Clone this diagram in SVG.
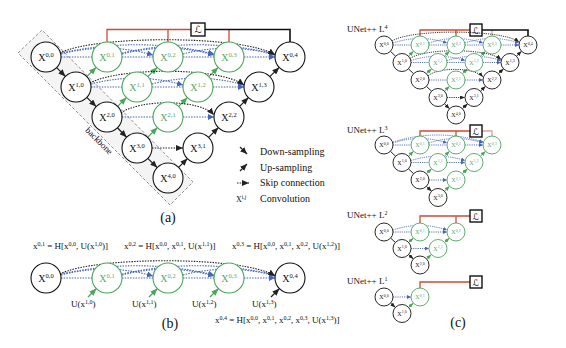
<svg xmlns="http://www.w3.org/2000/svg" width="566" height="348" viewBox="0 0 566 348">
<style>
.bg{fill:#fff}
.nb{fill:#fff;stroke:#111;stroke-width:1.1}
.ng{fill:#fff;stroke:#4aa55a;stroke-width:1.1}
.nbs{fill:#fff;stroke:#111;stroke-width:0.9}
.ngs{fill:#fff;stroke:#4aa55a;stroke-width:0.9}
.t{font-family:"Liberation Serif","Times New Roman",serif;fill:#111}
.tb{font-family:"Liberation Serif",serif;font-size:10px;fill:#111;text-anchor:middle}
.tg{font-family:"Liberation Serif",serif;font-size:10px;fill:#5aa865;text-anchor:middle}
.tbs{font-family:"Liberation Serif",serif;font-size:6px;fill:#111;text-anchor:middle}
.tgs{font-family:"Liberation Serif",serif;font-size:6px;fill:#5aa865;text-anchor:middle}
.sp{font-size:6.5px}
.sps{font-size:4px}
.dn{stroke:#222;stroke-width:1.3;fill:none;marker-end:url(#mk)}
.ug{stroke:#4aa55a;stroke-width:1.3;fill:none;marker-end:url(#mg)}
.sk{stroke:#4466bb;stroke-width:1.1;stroke-dasharray:1.5 1.2;fill:none;marker-end:url(#mb)}
.ska{stroke:#222;stroke-width:1.1;stroke-dasharray:1.5 1.2;fill:none;marker-end:url(#mk)}
.dns{stroke:#222;stroke-width:1;fill:none;marker-end:url(#mks)}
.ugs{stroke:#4aa55a;stroke-width:1;fill:none;marker-end:url(#mgs)}
.sks{stroke:#4466bb;stroke-width:0.9;stroke-dasharray:1.2 1;fill:none;marker-end:url(#mbs)}
.skas{stroke:#222;stroke-width:0.9;stroke-dasharray:1.2 1;fill:none;marker-end:url(#mks)}
.red{stroke:#d04a35;stroke-width:1.3;fill:none}
.pink{stroke:#e3a39a;stroke-width:1.3;fill:none}
.blk{stroke:#111;stroke-width:1.6;fill:none}
.box{fill:#fff;stroke:#111;stroke-width:1.4}
.L{font-family:"DejaVu Serif","DejaVu Sans",serif;font-style:italic;fill:#111;text-anchor:middle}
</style>
<defs>
<marker id="mk" markerUnits="userSpaceOnUse" markerWidth="7" markerHeight="6" refX="7" refY="3" orient="auto"><path d="M0,0 L7,3 L0,6 z" fill="#222"/></marker>
<marker id="mg" markerUnits="userSpaceOnUse" markerWidth="7" markerHeight="6" refX="7" refY="3" orient="auto"><path d="M0,0 L7,3 L0,6 z" fill="#4aa55a"/></marker>
<marker id="mb" markerUnits="userSpaceOnUse" markerWidth="6" markerHeight="6" refX="6" refY="3" orient="auto"><path d="M0,0 L6,3 L0,6 z" fill="#4466bb"/></marker>
<marker id="mks" markerUnits="userSpaceOnUse" markerWidth="5" markerHeight="4" refX="5" refY="2" orient="auto"><path d="M0,0 L5,2 L0,4 z" fill="#222"/></marker>
<marker id="mgs" markerUnits="userSpaceOnUse" markerWidth="5" markerHeight="4" refX="5" refY="2" orient="auto"><path d="M0,0 L5,2 L0,4 z" fill="#4aa55a"/></marker>
<marker id="mbs" markerUnits="userSpaceOnUse" markerWidth="4" markerHeight="4" refX="4" refY="2" orient="auto"><path d="M0,0 L4,2 L0,4 z" fill="#4466bb"/></marker>
</defs>
<rect class="bg" x="0" y="0" width="566" height="348"/>

<!-- ===== Panel (a) ===== -->
<g id="a-backbone">
<polygon points="18,53 42,30 193,182 170,205" fill="#f3f4f3" stroke="#777" stroke-width="0.8" stroke-dasharray="3 2"/>
<text class="t" font-size="9" text-anchor="middle" transform="translate(97,143) rotate(45)">backbone</text>
</g>
<g id="a-supervision">
<path class="red" d="M107 42 V29.5 H191 M168 42 V29.5 M229 42 V29.5"/>
<path class="blk" d="M205 29.5 H290 V42"/>
<rect class="box" x="191" y="23" width="14" height="13"/>
<text class="L" x="198" y="33" font-size="10">ℒ</text>
</g>
<g id="a-connectors">
<path class="dn" d="M56.6 67.6 L65.4 76.4"/>
<path class="dn" d="M86.8 97.4 L96.2 106.6"/>
<path class="dn" d="M117.4 127.8 L126.6 137.2"/>
<path class="dn" d="M147.8 158.4 L157.2 167.6"/>
<path class="ug" d="M86.8 76.6 L96.2 67.4"/>
<path class="ug" d="M117.6 106.4 L126.4 97.6"/>
<path class="ug" d="M147.6 137.4 L157.4 127.6"/>
<path class="dn" d="M178.6 167.4 L187.4 158.6"/>
<path class="ug" d="M147.8 76.6 L157.2 67.4"/>
<path class="ug" d="M178.6 106.4 L187.4 97.6"/>
<path class="dn" d="M208.6 137.4 L218.4 127.6"/>
<path class="ug" d="M208.8 76.6 L218.2 67.4"/>
<path class="dn" d="M239.6 106.4 L248.4 97.6"/>
<path class="dn" d="M269.8 76.6 L279.2 67.4"/>
<path class="sk" d="M61 57 H92 M122 57 H153 M183 57 H214 M244 57 H275"/>
<path class="sk" d="M91 87 H122 M152 87 H183 M213 87 H244"/>
<path class="sk" d="M122 117 H153 M183 117 H214"/>
<path class="ska" d="M152 148 H183"/>
<path class="sk" d="M61 54 Q107 42 153 55"/>
<path class="sk" d="M61 53 Q140 36 214 54"/>
<path class="sk" d="M122 54 Q168 42 214 55"/>
<path class="sk" d="M122 53 Q200 36 275 54"/>
<path class="sk" d="M183 54 Q229 42 275 55"/>
<path class="sk" d="M91 84 Q137 72 183 85"/>
<path class="sk" d="M152 84 Q198 72 244 85"/>
<path class="ska" d="M60 53 C95 35 245 35 275 55"/>
<path class="ska" d="M90 83 C120 67 220 67 244 85"/>
<path class="ska" d="M121 113 C140 99 200 99 214 115"/>
</g>
<g id="a-x00"><circle class="nb" cx="46" cy="57" r="15"/><text class="tb" x="46" y="60.5">X<tspan class="sp" dy="-4">0,0</tspan></text></g>
<g id="a-x01"><circle class="ng" cx="107" cy="57" r="15"/><text class="tg" x="107" y="60.5">X<tspan class="sp" dy="-4">0,1</tspan></text></g>
<g id="a-x02"><circle class="ng" cx="168" cy="57" r="15"/><text class="tg" x="168" y="60.5">X<tspan class="sp" dy="-4">0,2</tspan></text></g>
<g id="a-x03"><circle class="ng" cx="229" cy="57" r="15"/><text class="tg" x="229" y="60.5">X<tspan class="sp" dy="-4">0,3</tspan></text></g>
<g id="a-x04"><circle class="nb" cx="290" cy="57" r="15"/><text class="tb" x="290" y="60.5">X<tspan class="sp" dy="-4">0,4</tspan></text></g>
<g id="a-x10"><circle class="nb" cx="76" cy="87" r="15"/><text class="tb" x="76" y="90.5">X<tspan class="sp" dy="-4">1,0</tspan></text></g>
<g id="a-x11"><circle class="ng" cx="137" cy="87" r="15"/><text class="tg" x="137" y="90.5">X<tspan class="sp" dy="-4">1,1</tspan></text></g>
<g id="a-x12"><circle class="ng" cx="198" cy="87" r="15"/><text class="tg" x="198" y="90.5">X<tspan class="sp" dy="-4">1,2</tspan></text></g>
<g id="a-x13"><circle class="nb" cx="259" cy="87" r="15"/><text class="tb" x="259" y="90.5">X<tspan class="sp" dy="-4">1,3</tspan></text></g>
<g id="a-x20"><circle class="nb" cx="107" cy="117" r="15"/><text class="tb" x="107" y="120.5">X<tspan class="sp" dy="-4">2,0</tspan></text></g>
<g id="a-x21"><circle class="ng" cx="168" cy="117" r="15"/><text class="tg" x="168" y="120.5">X<tspan class="sp" dy="-4">2,1</tspan></text></g>
<g id="a-x22"><circle class="nb" cx="229" cy="117" r="15"/><text class="tb" x="229" y="120.5">X<tspan class="sp" dy="-4">2,2</tspan></text></g>
<g id="a-x30"><circle class="nb" cx="137" cy="148" r="15"/><text class="tb" x="137" y="151.5">X<tspan class="sp" dy="-4">3,0</tspan></text></g>
<g id="a-x31"><circle class="nb" cx="198" cy="148" r="15"/><text class="tb" x="198" y="151.5">X<tspan class="sp" dy="-4">3,1</tspan></text></g>
<g id="a-x40"><circle class="nb" cx="168" cy="178" r="15"/><text class="tb" x="168" y="181.5">X<tspan class="sp" dy="-4">4,0</tspan></text></g>

<g id="legend">
<path class="dn" d="M240 147 L247 154"/>
<path class="dn" d="M240 171 L247 164"/>
<path class="ska" d="M237 183 H249"/>
<text class="t" x="236" y="202" font-size="8">X<tspan font-size="5.5" dy="-3">i,j</tspan></text>
<text class="t" x="260" y="155" font-size="10">Down-sampling</text>
<text class="t" x="260" y="171" font-size="10">Up-sampling</text>
<text class="t" x="260" y="186" font-size="10">Skip connection</text>
<text class="t" x="260" y="202" font-size="10">Convolution</text>
</g>
<text class="t" x="168" y="222" font-size="14" text-anchor="middle">(a)</text>

<!-- ===== Panel (b) ===== -->
<g id="b-formulas" class="t" font-size="9">
<text x="33" y="249">x<tspan font-size="6" dy="-3.5">0,1</tspan><tspan dy="3.5"> = H[x</tspan><tspan font-size="6" dy="-3.5">0,0</tspan><tspan dy="3.5">, U(x</tspan><tspan font-size="6" dy="-3.5">1,0</tspan><tspan dy="3.5">)]</tspan></text>
<text x="124" y="249">x<tspan font-size="6" dy="-3.5">0,2</tspan><tspan dy="3.5"> = H[x</tspan><tspan font-size="6" dy="-3.5">0,0</tspan><tspan dy="3.5">, x</tspan><tspan font-size="6" dy="-3.5">0,1</tspan><tspan dy="3.5">, U(x</tspan><tspan font-size="6" dy="-3.5">1,1</tspan><tspan dy="3.5">)]</tspan></text>
<text x="232" y="249">x<tspan font-size="6" dy="-3.5">0,3</tspan><tspan dy="3.5"> = H[x</tspan><tspan font-size="6" dy="-3.5">0,0</tspan><tspan dy="3.5">, x</tspan><tspan font-size="6" dy="-3.5">0,1</tspan><tspan dy="3.5">, x</tspan><tspan font-size="6" dy="-3.5">0,2</tspan><tspan dy="3.5">, U(x</tspan><tspan font-size="6" dy="-3.5">1,2</tspan><tspan dy="3.5">)]</tspan></text>
<text x="215" y="323">x<tspan font-size="6" dy="-3.5">0,4</tspan><tspan dy="3.5"> = H[x</tspan><tspan font-size="6" dy="-3.5">0,0</tspan><tspan dy="3.5">, x</tspan><tspan font-size="6" dy="-3.5">0,1</tspan><tspan dy="3.5">, x</tspan><tspan font-size="6" dy="-3.5">0,2</tspan><tspan dy="3.5">, x</tspan><tspan font-size="6" dy="-3.5">0,3</tspan><tspan dy="3.5">, U(x</tspan><tspan font-size="6" dy="-3.5">1,3</tspan><tspan dy="3.5">)]</tspan></text>
</g>
<g id="b-connectors">
<path class="sk" d="M61 278 H92 M122 278 H153 M183 278 H214 M244 278 H275"/>
<path class="sk" d="M61 275 Q107 263 153 276"/>
<path class="sk" d="M61 274 Q140 257 214 275"/>
<path class="sk" d="M122 275 Q168 263 214 276"/>
<path class="sk" d="M122 274 Q200 257 275 275"/>
<path class="sk" d="M183 275 Q229 263 275 276"/>
<path class="ska" d="M60 274 C95 256 245 256 275 276"/>
<path class="ug" d="M88 297 L96.4 288.6"/>
<path class="ug" d="M149 297 L157.4 288.6"/>
<path class="ug" d="M210 297 L218.4 288.6"/>
<path class="dn" d="M271 297 L279.4 288.6"/>
</g>
<g id="b-x00"><circle class="nb" cx="46" cy="278" r="15"/><text class="tb" x="46" y="281.5">X<tspan class="sp" dy="-4">0,0</tspan></text></g>
<g id="b-x01"><circle class="ng" cx="107" cy="278" r="15"/><text class="tg" x="107" y="281.5">X<tspan class="sp" dy="-4">0,1</tspan></text></g>
<g id="b-x02"><circle class="ng" cx="168" cy="278" r="15"/><text class="tg" x="168" y="281.5">X<tspan class="sp" dy="-4">0,2</tspan></text></g>
<g id="b-x03"><circle class="ng" cx="229" cy="278" r="15"/><text class="tg" x="229" y="281.5">X<tspan class="sp" dy="-4">0,3</tspan></text></g>
<g id="b-x04"><circle class="nb" cx="290" cy="278" r="15"/><text class="tb" x="290" y="281.5">X<tspan class="sp" dy="-4">0,4</tspan></text></g>
<g id="b-ulabels" class="t" font-size="9">
<text x="71" y="307">U(x<tspan font-size="6" dy="-3.5">1,0</tspan><tspan dy="3.5">)</tspan></text>
<text x="132" y="307">U(x<tspan font-size="6" dy="-3.5">1,1</tspan><tspan dy="3.5">)</tspan></text>
<text x="192" y="307">U(x<tspan font-size="6" dy="-3.5">1,2</tspan><tspan dy="3.5">)</tspan></text>
<text x="252" y="307">U(x<tspan font-size="6" dy="-3.5">1,3</tspan><tspan dy="3.5">)</tspan></text>
</g>
<text class="t" x="170" y="328" font-size="14" text-anchor="middle">(b)</text>

<!-- ===== Panel (c) ===== -->
<g id="c-titles" class="t" font-size="9">
<text x="347" y="32">UNet++ L<tspan font-size="6" dy="-3.5">4</tspan></text>
<text x="347" y="133">UNet++ L<tspan font-size="6" dy="-3.5">3</tspan></text>
<text x="347" y="218">UNet++ L<tspan font-size="6" dy="-3.5">2</tspan></text>
<text x="347" y="284">UNet++ L<tspan font-size="6" dy="-3.5">1</tspan></text>
</g>
<text class="t" x="458" y="327" font-size="14" text-anchor="middle">(c)</text>

<g id="c4-supervision">
<path class="red" d="M420 36 V30 H470 M456 36 V30"/>
<path class="pink" d="M492 36 V30"/>
<path class="blk" d="M482 30 H528 V36"/>
<rect class="box" x="470" y="24" width="12" height="12"/>
<text class="L" x="476" y="33.5" font-size="9">ℒ</text>
</g>
<g id="c4-connectors">
<path class="dns" d="M390.4 51.3 L395.6 56.2 M408.4 68.8 L413.6 73.7 M426.4 86.3 L431.6 91.2 M444.4 103.8 L449.6 108.7"/>
<path class="ugs" d="M408.4 56.2 L413.6 51.3"/>
<path class="ugs" d="M426.4 73.7 L431.6 68.8"/>
<path class="ugs" d="M444.4 91.2 L449.6 86.3"/>
<path class="dns" d="M462.4 108.7 L467.6 103.8"/>
<path class="ugs" d="M444.4 56.2 L449.6 51.3"/>
<path class="ugs" d="M462.4 73.7 L467.6 68.8"/>
<path class="dns" d="M480.4 91.2 L485.6 86.3"/>
<path class="ugs" d="M480.4 56.2 L485.6 51.3"/>
<path class="dns" d="M498.4 73.7 L503.6 68.8"/>
<path class="dns" d="M516.4 56.2 L521.6 51.3"/>
<path class="sks" d="M393 45 H411 M429 45 H447 M465 45 H483 M501 45 H519"/>
<path class="sks" d="M411 62.5 H429 M447 62.5 H465 M483 62.5 H501"/>
<path class="sks" d="M429 80 H447 M465 80 H483"/>
<path class="skas" d="M447 97.5 H465"/>
<path class="sks" d="M393 43 Q420 34 447 43"/>
<path class="sks" d="M429 43 Q456 34 483 43"/>
<path class="sks" d="M465 43 Q492 34 519 43"/>
<path class="sks" d="M411 60.5 Q438 52 465 60.5"/>
<path class="sks" d="M447 60.5 Q474 52 501 60.5"/>
<path class="skas" d="M392 41 C410 29 502 29 519 42"/>
<path class="skas" d="M410 58.5 C425 48 488 48 501 59.5"/>
<path class="skas" d="M428 76 C438 67 474 67 483 77"/>
</g>
<g id="c4-x00"><circle class="nbs" cx="384" cy="45" r="9"/><text class="tbs" x="384" y="47">X<tspan class="sps" dy="-2.5">0,0</tspan></text></g>
<g id="c4-x01"><circle class="ngs" cx="420" cy="45" r="9"/><text class="tgs" x="420" y="47">X<tspan class="sps" dy="-2.5">0,1</tspan></text></g>
<g id="c4-x02"><circle class="ngs" cx="456" cy="45" r="9"/><text class="tgs" x="456" y="47">X<tspan class="sps" dy="-2.5">0,2</tspan></text></g>
<g id="c4-x03"><circle class="ngs" cx="492" cy="45" r="9"/><text class="tgs" x="492" y="47">X<tspan class="sps" dy="-2.5">0,3</tspan></text></g>
<g id="c4-x04"><circle class="nbs" cx="528" cy="45" r="9"/><text class="tbs" x="528" y="47">X<tspan class="sps" dy="-2.5">0,4</tspan></text></g>
<g id="c4-x10"><circle class="nbs" cx="402" cy="62.5" r="9"/><text class="tbs" x="402" y="64.5">X<tspan class="sps" dy="-2.5">1,0</tspan></text></g>
<g id="c4-x11"><circle class="ngs" cx="438" cy="62.5" r="9"/><text class="tgs" x="438" y="64.5">X<tspan class="sps" dy="-2.5">1,1</tspan></text></g>
<g id="c4-x12"><circle class="ngs" cx="474" cy="62.5" r="9"/><text class="tgs" x="474" y="64.5">X<tspan class="sps" dy="-2.5">1,2</tspan></text></g>
<g id="c4-x13"><circle class="nbs" cx="510" cy="62.5" r="9"/><text class="tbs" x="510" y="64.5">X<tspan class="sps" dy="-2.5">1,3</tspan></text></g>
<g id="c4-x20"><circle class="nbs" cx="420" cy="80" r="9"/><text class="tbs" x="420" y="82">X<tspan class="sps" dy="-2.5">2,0</tspan></text></g>
<g id="c4-x21"><circle class="ngs" cx="456" cy="80" r="9"/><text class="tgs" x="456" y="82">X<tspan class="sps" dy="-2.5">2,1</tspan></text></g>
<g id="c4-x22"><circle class="nbs" cx="492" cy="80" r="9"/><text class="tbs" x="492" y="82">X<tspan class="sps" dy="-2.5">2,2</tspan></text></g>
<g id="c4-x30"><circle class="nbs" cx="438" cy="97.5" r="9"/><text class="tbs" x="438" y="99.5">X<tspan class="sps" dy="-2.5">3,0</tspan></text></g>
<g id="c4-x31"><circle class="nbs" cx="474" cy="97.5" r="9"/><text class="tbs" x="474" y="99.5">X<tspan class="sps" dy="-2.5">3,1</tspan></text></g>
<g id="c4-x40"><circle class="nbs" cx="456" cy="115" r="9"/><text class="tbs" x="456" y="117">X<tspan class="sps" dy="-2.5">4,0</tspan></text></g>

<g id="c3-supervision">
<path class="red" d="M420 136 V131 H470 M456 136 V131"/>
<path class="pink" d="M482 131 H492 V136"/>
<rect class="box" x="470" y="125" width="12" height="12"/>
<text class="L" x="476" y="134.5" font-size="9">ℒ</text>
</g>
<g id="c3-connectors">
<path class="dns" d="M390.4 151.3 L395.6 156.2 M408.4 168.8 L413.6 173.7 M426.4 186.3 L431.6 191.2"/>
<path class="ugs" d="M408.4 156.2 L413.6 151.3"/>
<path class="ugs" d="M426.4 173.7 L431.6 168.8"/>
<path class="ugs" d="M444.4 191.2 L449.6 186.3"/>
<path class="ugs" d="M444.4 156.2 L449.6 151.3"/>
<path class="ugs" d="M462.4 173.7 L467.6 168.8"/>
<path class="ugs" d="M480.4 156.2 L485.6 151.3"/>
<path class="sks" d="M393 145 H411 M429 145 H447 M465 145 H483"/>
<path class="sks" d="M411 162.5 H429 M447 162.5 H465"/>
<path class="sks" d="M429 180 H447"/>
<path class="sks" d="M393 143 Q420 134 447 143"/>
<path class="sks" d="M429 143 Q456 134 483 143"/>
<path class="sks" d="M393 142 Q438 128 483 142"/>
<path class="sks" d="M411 160.5 Q438 152 465 160.5"/>
</g>
<g id="c3-x00"><circle class="nbs" cx="384" cy="145" r="9"/><text class="tbs" x="384" y="147">X<tspan class="sps" dy="-2.5">0,0</tspan></text></g>
<g id="c3-x01"><circle class="ngs" cx="420" cy="145" r="9"/><text class="tgs" x="420" y="147">X<tspan class="sps" dy="-2.5">0,1</tspan></text></g>
<g id="c3-x02"><circle class="ngs" cx="456" cy="145" r="9"/><text class="tgs" x="456" y="147">X<tspan class="sps" dy="-2.5">0,2</tspan></text></g>
<g id="c3-x03"><circle class="ngs" cx="492" cy="145" r="9"/><text class="tgs" x="492" y="147">X<tspan class="sps" dy="-2.5">0,3</tspan></text></g>
<g id="c3-x10"><circle class="nbs" cx="402" cy="162.5" r="9"/><text class="tbs" x="402" y="164.5">X<tspan class="sps" dy="-2.5">1,0</tspan></text></g>
<g id="c3-x11"><circle class="ngs" cx="438" cy="162.5" r="9"/><text class="tgs" x="438" y="164.5">X<tspan class="sps" dy="-2.5">1,1</tspan></text></g>
<g id="c3-x12"><circle class="ngs" cx="474" cy="162.5" r="9"/><text class="tgs" x="474" y="164.5">X<tspan class="sps" dy="-2.5">1,2</tspan></text></g>
<g id="c3-x20"><circle class="nbs" cx="420" cy="180" r="9"/><text class="tbs" x="420" y="182">X<tspan class="sps" dy="-2.5">2,0</tspan></text></g>
<g id="c3-x21"><circle class="ngs" cx="456" cy="180" r="9"/><text class="tgs" x="456" y="182">X<tspan class="sps" dy="-2.5">2,1</tspan></text></g>
<g id="c3-x30"><circle class="nbs" cx="438" cy="197.5" r="9"/><text class="tbs" x="438" y="199.5">X<tspan class="sps" dy="-2.5">3,0</tspan></text></g>

<g id="c2-supervision">
<path class="red" d="M420 223 V216 H470 M456 223 V216"/>
<rect class="box" x="470" y="210" width="12" height="12"/>
<text class="L" x="476" y="219.5" font-size="9">ℒ</text>
</g>
<g id="c2-connectors">
<path class="dns" d="M390.6 238.1 L395.4 242.4 M408.6 254.6 L413.4 258.9"/>
<path class="ugs" d="M408.6 242.4 L413.4 238.1"/>
<path class="ugs" d="M426.6 258.9 L431.4 254.6"/>
<path class="ugs" d="M444.6 242.4 L449.4 238.1"/>
<path class="sks" d="M393 232 H411 M429 232 H447"/>
<path class="sks" d="M411 248.5 H429"/>
<path class="sks" d="M393 230 Q420 221 447 230"/>
</g>
<g id="c2-x00"><circle class="nbs" cx="384" cy="232" r="9"/><text class="tbs" x="384" y="234">X<tspan class="sps" dy="-2.5">0,0</tspan></text></g>
<g id="c2-x01"><circle class="ngs" cx="420" cy="232" r="9"/><text class="tgs" x="420" y="234">X<tspan class="sps" dy="-2.5">0,1</tspan></text></g>
<g id="c2-x02"><circle class="ngs" cx="456" cy="232" r="9"/><text class="tgs" x="456" y="234">X<tspan class="sps" dy="-2.5">0,2</tspan></text></g>
<g id="c2-x10"><circle class="nbs" cx="402" cy="248.5" r="9"/><text class="tbs" x="402" y="250.5">X<tspan class="sps" dy="-2.5">1,0</tspan></text></g>
<g id="c2-x11"><circle class="ngs" cx="438" cy="248.5" r="9"/><text class="tgs" x="438" y="250.5">X<tspan class="sps" dy="-2.5">1,1</tspan></text></g>
<g id="c2-x20"><circle class="nbs" cx="420" cy="265" r="9"/><text class="tbs" x="420" y="267">X<tspan class="sps" dy="-2.5">2,0</tspan></text></g>

<g id="c1-supervision">
<path class="red" d="M420 288 V282 H470"/>
<rect class="box" x="470" y="276" width="12" height="12"/>
<text class="L" x="476" y="285.5" font-size="9">ℒ</text>
</g>
<g id="c1-connectors">
<path class="dns" d="M390.6 303.1 L395.4 307.4"/>
<path class="ugs" d="M408.6 307.4 L413.4 303.1"/>
<path class="sks" d="M393 297 H411"/>
</g>
<g id="c1-x00"><circle class="nbs" cx="384" cy="297" r="9"/><text class="tbs" x="384" y="299">X<tspan class="sps" dy="-2.5">0,0</tspan></text></g>
<g id="c1-x01"><circle class="ngs" cx="420" cy="297" r="9"/><text class="tgs" x="420" y="299">X<tspan class="sps" dy="-2.5">0,1</tspan></text></g>
<g id="c1-x10"><circle class="nbs" cx="402" cy="313.5" r="9"/><text class="tbs" x="402" y="315.5">X<tspan class="sps" dy="-2.5">1,0</tspan></text></g>
</svg>
